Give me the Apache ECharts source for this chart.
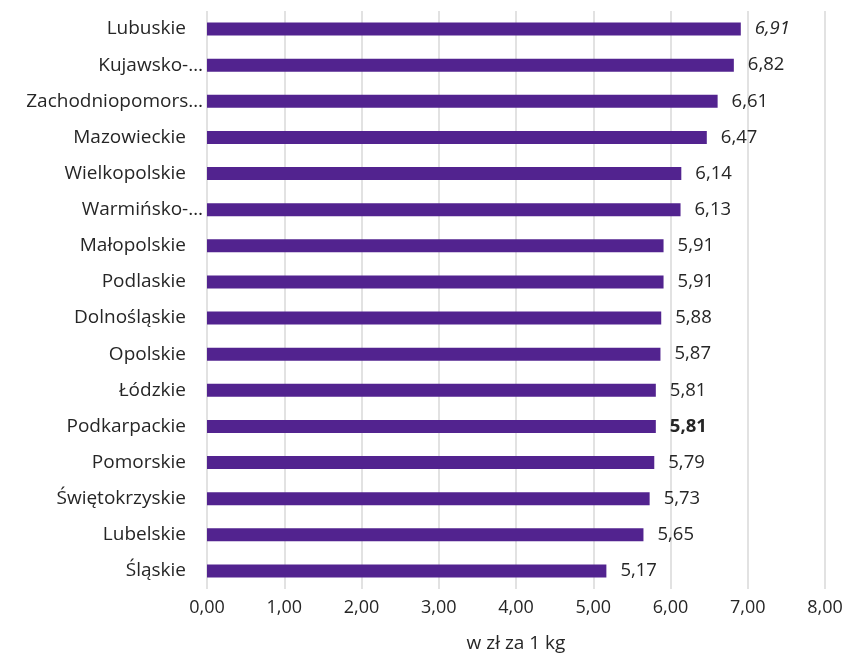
<!DOCTYPE html>
<html><head><meta charset="utf-8">
<script src="https://cdn.jsdelivr.net/npm/echarts@6/dist/echarts.min.js"></script>
<style>html,body{margin:0;padding:0;background:#fff}#c{width:846px;height:658px}</style>
</head><body><div id="c"></div>
<script>
const categories = ["Lubuskie","Kujawsko-…","Zachodniopomors…","Mazowieckie","Wielkopolskie","Warmińsko-…","Małopolskie","Podlaskie","Dolnośląskie","Opolskie","Łódzkie","Podkarpackie","Pomorskie","Świętokrzyskie","Lubelskie","Śląskie"];
const values = [6.91,6.82,6.61,6.47,6.14,6.13,5.91,5.91,5.88,5.87,5.81,5.81,5.79,5.73,5.65,5.17];
const xTicks = {min:0,max:8,interval:1};
const axisName = "w zł za 1 kg";
const italicIdx = 0, boldIdx = 11;
const fmt = v => v.toFixed(2).replace('.', ',');
const FONT = "'Open Sans', 'Noto Sans', sans-serif";
const TXT = '#262626';
const chart = echarts.init(document.getElementById('c'));
const data = values.map((v,i)=>({
  value:v,
  label:{fontStyle: i===italicIdx?'italic':'normal', fontWeight: i===boldIdx?'bold':'normal'}
}));
chart.setOption({
  animation:false,
  grid:{left:207,right:21,top:11,bottom:68,containLabel:false},
  xAxis:{type:'value',min:xTicks.min,max:xTicks.max,interval:xTicks.interval,
    name:axisName,nameLocation:'middle',nameGap:45,
    nameTextStyle:{fontFamily:FONT,fontSize:19,color:TXT},
    axisLine:{show:false},axisTick:{show:false},
    axisLabel:{formatter:v=>fmt(v),fontFamily:FONT,fontSize:18,color:TXT,margin:10},
    splitLine:{show:true,lineStyle:{color:'#d9d9d9',width:1.5}}},
  yAxis:{type:'category',data:categories,inverse:true,
    axisLine:{show:false},axisTick:{show:false},
    axisLabel:{fontFamily:FONT,fontSize:19,color:TXT,margin:4,
      formatter:v=> v.endsWith('…') ? '{t|'+v+'}' : '{n|'+v+'}',
      rich:{n:{fontFamily:FONT,fontSize:19,color:TXT,padding:[0,17,0,0]},
            t:{fontFamily:FONT,fontSize:19,color:TXT}}}},
  series:[{type:'bar',data:data,barWidth:13,
    itemStyle:{color:'#52238f'},
    label:{show:true,position:'right',distance:14,formatter:p=>fmt(p.value),
      fontFamily:FONT,fontSize:18.5,color:TXT}}]
});
</script></body></html>
